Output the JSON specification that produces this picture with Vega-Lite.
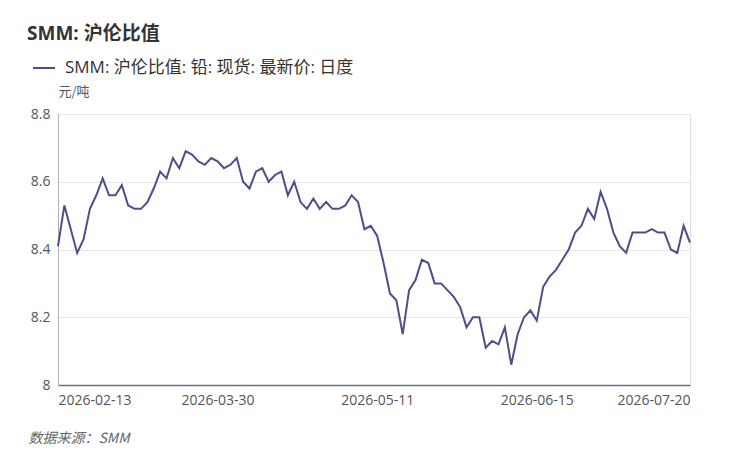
{
  "$schema": "https://vega.github.io/schema/vega-lite/v6.json",
  "width": 632,
  "height": 271,
  "autosize": {"type": "none"},
  "padding": {"left": 58, "top": 114, "right": 45, "bottom": 80},
  "background": "#ffffff",
  "title": {
    "text": "SMM: 沪伦比值",
    "anchor": "start",
    "frame": "group",
    "dx": -31,
    "offset": 12,
    "fontSize": 19,
    "fontWeight": "bold",
    "color": "#333333",
    "font": "Open Sans, Noto Sans CJK SC"
  },
  "data": {
    "values": [
      {"d": "2026-02-13", "v": 8.41},
      {"d": "2026-02-24", "v": 8.53},
      {"d": "2026-02-25", "v": 8.46},
      {"d": "2026-02-26", "v": 8.39},
      {"d": "2026-02-27", "v": 8.43},
      {"d": "2026-03-02", "v": 8.52},
      {"d": "2026-03-03", "v": 8.56},
      {"d": "2026-03-04", "v": 8.61},
      {"d": "2026-03-05", "v": 8.56},
      {"d": "2026-03-06", "v": 8.56},
      {"d": "2026-03-09", "v": 8.59},
      {"d": "2026-03-10", "v": 8.53},
      {"d": "2026-03-11", "v": 8.52},
      {"d": "2026-03-12", "v": 8.52},
      {"d": "2026-03-13", "v": 8.54},
      {"d": "2026-03-16", "v": 8.58},
      {"d": "2026-03-17", "v": 8.63},
      {"d": "2026-03-18", "v": 8.61},
      {"d": "2026-03-19", "v": 8.67},
      {"d": "2026-03-20", "v": 8.64},
      {"d": "2026-03-23", "v": 8.69},
      {"d": "2026-03-24", "v": 8.68},
      {"d": "2026-03-25", "v": 8.66},
      {"d": "2026-03-26", "v": 8.65},
      {"d": "2026-03-27", "v": 8.67},
      {"d": "2026-03-30", "v": 8.66},
      {"d": "2026-03-31", "v": 8.64},
      {"d": "2026-04-01", "v": 8.65},
      {"d": "2026-04-02", "v": 8.67},
      {"d": "2026-04-07", "v": 8.60},
      {"d": "2026-04-08", "v": 8.58},
      {"d": "2026-04-09", "v": 8.63},
      {"d": "2026-04-10", "v": 8.64},
      {"d": "2026-04-13", "v": 8.60},
      {"d": "2026-04-14", "v": 8.62},
      {"d": "2026-04-15", "v": 8.63},
      {"d": "2026-04-16", "v": 8.56},
      {"d": "2026-04-17", "v": 8.60},
      {"d": "2026-04-20", "v": 8.54},
      {"d": "2026-04-21", "v": 8.52},
      {"d": "2026-04-22", "v": 8.55},
      {"d": "2026-04-23", "v": 8.52},
      {"d": "2026-04-24", "v": 8.54},
      {"d": "2026-04-27", "v": 8.52},
      {"d": "2026-04-28", "v": 8.52},
      {"d": "2026-04-29", "v": 8.53},
      {"d": "2026-04-30", "v": 8.56},
      {"d": "2026-05-06", "v": 8.54},
      {"d": "2026-05-07", "v": 8.46},
      {"d": "2026-05-08", "v": 8.47},
      {"d": "2026-05-11", "v": 8.44},
      {"d": "2026-05-12", "v": 8.36},
      {"d": "2026-05-13", "v": 8.27},
      {"d": "2026-05-14", "v": 8.25},
      {"d": "2026-05-15", "v": 8.15},
      {"d": "2026-05-18", "v": 8.28},
      {"d": "2026-05-19", "v": 8.31},
      {"d": "2026-05-20", "v": 8.37},
      {"d": "2026-05-21", "v": 8.36},
      {"d": "2026-05-22", "v": 8.30},
      {"d": "2026-05-25", "v": 8.30},
      {"d": "2026-05-26", "v": 8.28},
      {"d": "2026-05-27", "v": 8.26},
      {"d": "2026-05-28", "v": 8.23},
      {"d": "2026-05-29", "v": 8.17},
      {"d": "2026-06-01", "v": 8.20},
      {"d": "2026-06-02", "v": 8.20},
      {"d": "2026-06-03", "v": 8.11},
      {"d": "2026-06-04", "v": 8.13},
      {"d": "2026-06-05", "v": 8.12},
      {"d": "2026-06-08", "v": 8.17},
      {"d": "2026-06-09", "v": 8.06},
      {"d": "2026-06-10", "v": 8.15},
      {"d": "2026-06-11", "v": 8.20},
      {"d": "2026-06-12", "v": 8.22},
      {"d": "2026-06-15", "v": 8.19},
      {"d": "2026-06-16", "v": 8.29},
      {"d": "2026-06-17", "v": 8.32},
      {"d": "2026-06-18", "v": 8.34},
      {"d": "2026-06-22", "v": 8.37},
      {"d": "2026-06-23", "v": 8.40},
      {"d": "2026-06-24", "v": 8.45},
      {"d": "2026-06-25", "v": 8.47},
      {"d": "2026-06-26", "v": 8.52},
      {"d": "2026-06-29", "v": 8.49},
      {"d": "2026-06-30", "v": 8.57},
      {"d": "2026-07-01", "v": 8.52},
      {"d": "2026-07-02", "v": 8.45},
      {"d": "2026-07-03", "v": 8.41},
      {"d": "2026-07-06", "v": 8.39},
      {"d": "2026-07-07", "v": 8.45},
      {"d": "2026-07-08", "v": 8.45},
      {"d": "2026-07-09", "v": 8.45},
      {"d": "2026-07-10", "v": 8.46},
      {"d": "2026-07-13", "v": 8.45},
      {"d": "2026-07-14", "v": 8.45},
      {"d": "2026-07-15", "v": 8.40},
      {"d": "2026-07-16", "v": 8.39},
      {"d": "2026-07-17", "v": 8.47},
      {"d": "2026-07-20", "v": 8.42}
    ]
  },
  "mark": {"type": "line", "strokeWidth": 2},
  "encoding": {
    "x": {
      "field": "d",
      "type": "ordinal",
      "sort": null,
      "scale": {"type": "point", "padding": 0},
      "axis": {
        "values": ["2026-02-13", "2026-03-30", "2026-05-11", "2026-06-15", "2026-07-20"],
        "labelAngle": 0,
        "labelFlush": true,
        "labelPadding": 8,
        "labelFontSize": 14,
        "labelColor": "#555555",
        "labelFont": "Open Sans, Noto Sans CJK SC",
        "ticks": false,
        "grid": false,
        "domainColor": "#6e7079",
        "domainWidth": 1.5,
        "title": "数据来源：SMM",
        "titleX": -30,
        "titleY": 57,
        "titleAlign": "left",
        "titleAnchor": "start",
        "titleBaseline": "alphabetic",
        "titleFontStyle": "italic",
        "titleFontWeight": "normal",
        "titleFontSize": 14,
        "titleColor": "#666666",
        "titleFont": "Noto Sans CJK SC"
      }
    },
    "y": {
      "field": "v",
      "type": "quantitative",
      "scale": {"domain": [8, 8.8], "zero": false, "nice": false},
      "axis": {
        "values": [8, 8.2, 8.4, 8.6, 8.8],
        "format": ".1~f",
        "labelFontSize": 14,
        "labelColor": "#555555",
        "labelFont": "Open Sans, Noto Sans CJK SC",
        "labelPadding": 8,
        "ticks": false,
        "domainColor": "#b0b0b0",
        "gridColor": "#e6e6e6",
        "title": "元/吨",
        "titleAngle": 0,
        "titleX": 0,
        "titleY": -19,
        "titleAlign": "left",
        "titleBaseline": "alphabetic",
        "titleFontWeight": "normal",
        "titleFontSize": 13,
        "titleColor": "#555555",
        "titleFont": "Noto Sans CJK SC"
      }
    },
    "color": {
      "datum": "SMM: 沪伦比值: 铅: 现货: 最新价: 日度",
      "type": "nominal",
      "scale": {"range": ["#4b4f8a"]},
      "legend": {
        "title": null,
        "orient": "none",
        "legendX": -26,
        "legendY": -58,
        "padding": 0,
        "symbolType": "stroke",
        "symbolSize": 484,
        "symbolStrokeWidth": 2,
        "labelOffset": 9,
        "labelFontSize": 17,
        "labelColor": "#333333",
        "labelFont": "Open Sans, Noto Sans CJK SC",
        "labelLimit": 500
      }
    }
  }
}
